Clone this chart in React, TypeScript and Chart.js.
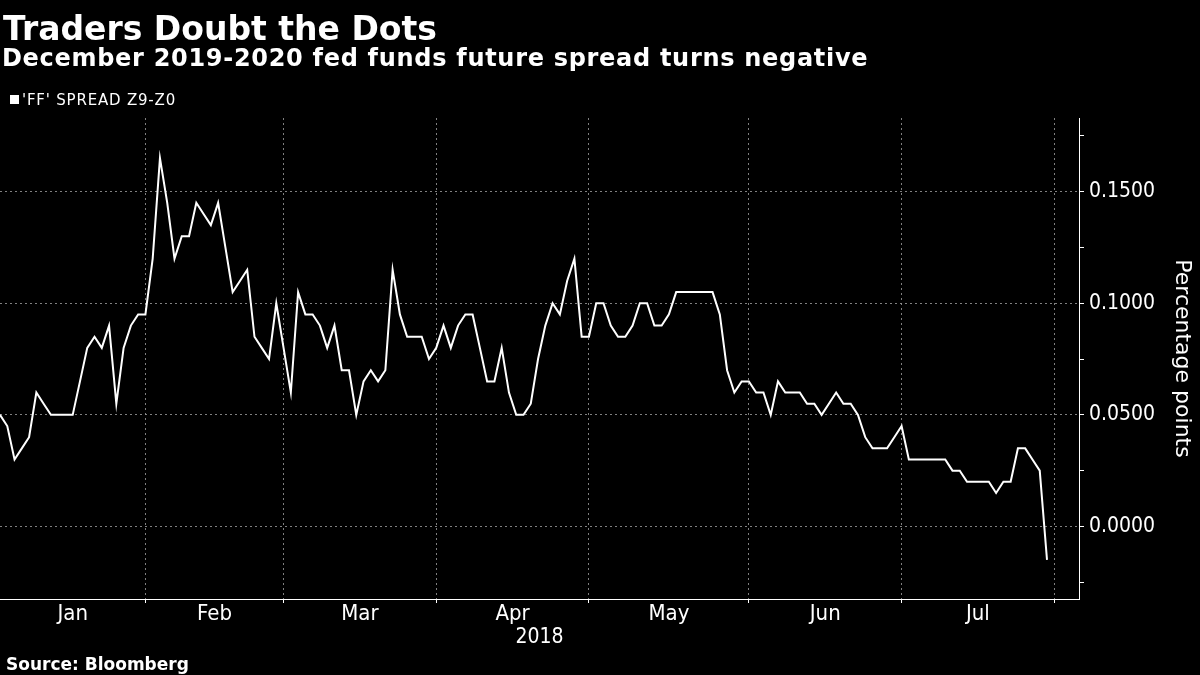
import React, { useEffect, useRef } from "react";
import { Chart, registerables } from "chart.js";

Chart.register(...registerables);

// Daily (trading-day) values of the December 2019-2020 fed funds futures spread, 2018
const janValues = [0.05, 0.045, 0.03, 0.035, 0.04, 0.06, 0.055, 0.05, 0.05, 0.05, 0.05, 0.065, 0.08, 0.085, 0.08, 0.09, 0.055, 0.08, 0.09, 0.095];
const febValues = [0.095, 0.12, 0.165, 0.145, 0.12, 0.13, 0.13, 0.145, 0.14, 0.135, 0.145, 0.125, 0.105, 0.11, 0.115, 0.085, 0.08, 0.075, 0.1];
const marValues = [0.08, 0.06, 0.105, 0.095, 0.095, 0.09, 0.08, 0.09, 0.07, 0.07, 0.05, 0.065, 0.07, 0.065, 0.07, 0.115, 0.095, 0.085, 0.085, 0.085, 0.075];
const aprValues = [0.08, 0.09, 0.08, 0.09, 0.095, 0.095, 0.08, 0.065, 0.065, 0.08, 0.06, 0.05, 0.05, 0.055, 0.075, 0.09, 0.1, 0.095, 0.11, 0.12, 0.085];
const mayValues = [0.085, 0.1, 0.1, 0.09, 0.085, 0.085, 0.09, 0.1, 0.1, 0.09, 0.09, 0.095, 0.105, 0.105, 0.105, 0.105, 0.105, 0.105, 0.095, 0.07, 0.06, 0.065];
const junValues = [0.065, 0.06, 0.06, 0.05, 0.065, 0.06, 0.06, 0.06, 0.055, 0.055, 0.05, 0.055, 0.06, 0.055, 0.055, 0.05, 0.04, 0.035, 0.035, 0.035, 0.04];
const julValues = [0.045, 0.03, 0.03, 0.03, 0.03, 0.03, 0.03, 0.025, 0.025, 0.02, 0.02, 0.02, 0.02, 0.015, 0.02, 0.02, 0.035, 0.035, 0.03, 0.025, -0.015];

const monthLabels = ["Jan", "Feb", "Mar", "Apr", "May", "Jun", "Jul"];
const yearLabel = "2018";
const seriesLabel = "'FF' SPREAD Z9-Z0";
const yAxisTitle = "Percentage points";
const titleText = "Traders Doubt the Dots";
const subtitleText = "December 2019-2020 fed funds future spread turns negative";
const sourceText = "Source: Bloomberg";

const yTickValues = [-0.025, 0, 0.025, 0.05, 0.075, 0.1, 0.125, 0.15, 0.175];
const yLabelStep = 0.05;
const yMin = -0.0325;
const yMax = 0.183;
const xMaxIndex = 148.4;

const COND = "'DejaVu Sans Condensed', 'DejaVu Sans', sans-serif";
const SANS = "'DejaVu Sans', sans-serif";
const GRID = "rgba(150,150,150,0.85)";

export default function App() {
  const canvasRef = useRef<HTMLCanvasElement | null>(null);

  useEffect(() => {
    const canvas = canvasRef.current;
    if (!canvas) return;
    const months = [janValues, febValues, marValues, aprValues, mayValues, junValues, julValues];
    const points: { x: number; y: number }[] = [];
    const boundaries: number[] = [];
    const mids: { value: number; label: string }[] = [];
    let start = 0;
    months.forEach((vals, k) => {
      vals.forEach((v, i) => points.push({ x: start + i, y: v }));
      const end = start + vals.length;
      mids.push({ value: (start + end) / 2, label: monthLabels[k] });
      boundaries.push(end);
      start = end;
    });
    const near = (a: number, b: number) => Math.abs(a - b) < 1e-6;
    const isBoundary = (v: any) => typeof v === "number" && boundaries.some((b) => near(b, v));
    const labelFor = (v: number) => {
      const m = mids.find((mm) => near(mm.value, v));
      return m ? m.label : "";
    };
    const xTickValues = [...boundaries, ...mids.map((m) => m.value)].sort((a, b) => a - b);
    const isMajorY = (v: any) =>
      typeof v === "number" && Math.abs(v / yLabelStep - Math.round(v / yLabelStep)) < 1e-6;

    const chart = new Chart(canvas, {
      type: "line",
      data: {
        datasets: [
          {
            label: seriesLabel,
            data: points,
            borderColor: "#ffffff",
            borderWidth: 2,
            pointRadius: 0,
            tension: 0,
            fill: false,
          },
        ],
      },
      options: {
        responsive: false,
        animation: false,
        devicePixelRatio: 1,
        layout: { padding: { top: 118, left: 0, right: 0, bottom: 0 } },
        plugins: {
          legend: { display: false },
          tooltip: { enabled: false },
          title: { display: false },
        },
        scales: {
          x: {
            type: "linear",
            position: "bottom",
            min: 0,
            max: xMaxIndex,
            afterBuildTicks: (s: any) => {
              s.ticks = xTickValues.map((value) => ({ value }));
            },
            afterFit: (s: any) => {
              s.height = 76;
            },
            ticks: {
              autoSkip: false,
              maxRotation: 0,
              minRotation: 0,
              padding: 0,
              color: "#ffffff",
              font: { family: COND, size: 22, lineHeight: 1 },
              callback: (v: any) => labelFor(Number(v)),
            },
            grid: {
              color: (c: any) => (c.tick && isBoundary(c.tick.value) ? GRID : "rgba(0,0,0,0)"),
              tickColor: (c: any) => (c.tick && isBoundary(c.tick.value) ? "#ffffff" : "rgba(0,0,0,0)"),
              tickLength: 4,
              lineWidth: 1,
            },
            border: { display: true, color: "#ffffff", width: 1, dash: [2, 3] },
            title: {
              display: true,
              text: yearLabel,
              color: "#ffffff",
              font: { family: COND, size: 21 },
              padding: { top: 0, bottom: 25 },
            },
          },
          y: {
            type: "linear",
            position: "right",
            min: yMin,
            max: yMax,
            afterBuildTicks: (s: any) => {
              s.ticks = yTickValues.map((value) => ({ value }));
            },
            afterFit: (s: any) => {
              s.width = 121;
            },
            ticks: {
              color: "#ffffff",
              padding: 5,
              font: { family: COND, size: 21 },
              callback: (v: any) => (isMajorY(Number(v)) ? Number(v).toFixed(4) : ""),
            },
            grid: {
              color: (c: any) => (c.tick && isMajorY(c.tick.value) ? GRID : "rgba(0,0,0,0)"),
              tickColor: "#ffffff",
              tickLength: 5,
              lineWidth: 1,
            },
            border: { display: true, color: "#ffffff", width: 1, dash: [2, 3] },
            title: {
              display: true,
              text: yAxisTitle,
              color: "#ffffff",
              font: { family: SANS, size: 22 },
              padding: { top: 5, bottom: 0 },
            },
          },
        },
      },
    } as any);
    return () => chart.destroy();
  }, []);

  const abs = (s: React.CSSProperties): React.CSSProperties => ({
    position: "absolute",
    whiteSpace: "nowrap",
    color: "#ffffff",
    lineHeight: 1,
    zIndex: 2,
    ...s,
  });

  return (
    <div
      style={{
        position: "absolute",
        left: 0,
        top: 0,
        width: 1200,
        height: 675,
        background: "#000000",
        overflow: "hidden",
      }}
    >
      <canvas ref={canvasRef} width={1200} height={675} style={{ position: "absolute", left: 0, top: 0, width: 1200, height: 675 }} />
      <div style={abs({ left: 3, top: 12, fontFamily: SANS, fontWeight: 700, fontSize: 33 })}>{titleText}</div>
      <div style={abs({ left: 2, top: 46, fontFamily: SANS, fontWeight: 700, fontSize: 24, letterSpacing: 0.7 })}>{subtitleText}</div>
      <div style={abs({ left: 10, top: 95, width: 9, height: 9, background: "#ffffff" })} />
      <div style={abs({ left: 22, top: 93, fontFamily: SANS, fontSize: 15, letterSpacing: 0.8 })}>{seriesLabel}</div>
      <div style={abs({ left: 6, top: 656, fontFamily: SANS, fontWeight: 700, fontSize: 17 })}>{sourceText}</div>
    </div>
  );
}
